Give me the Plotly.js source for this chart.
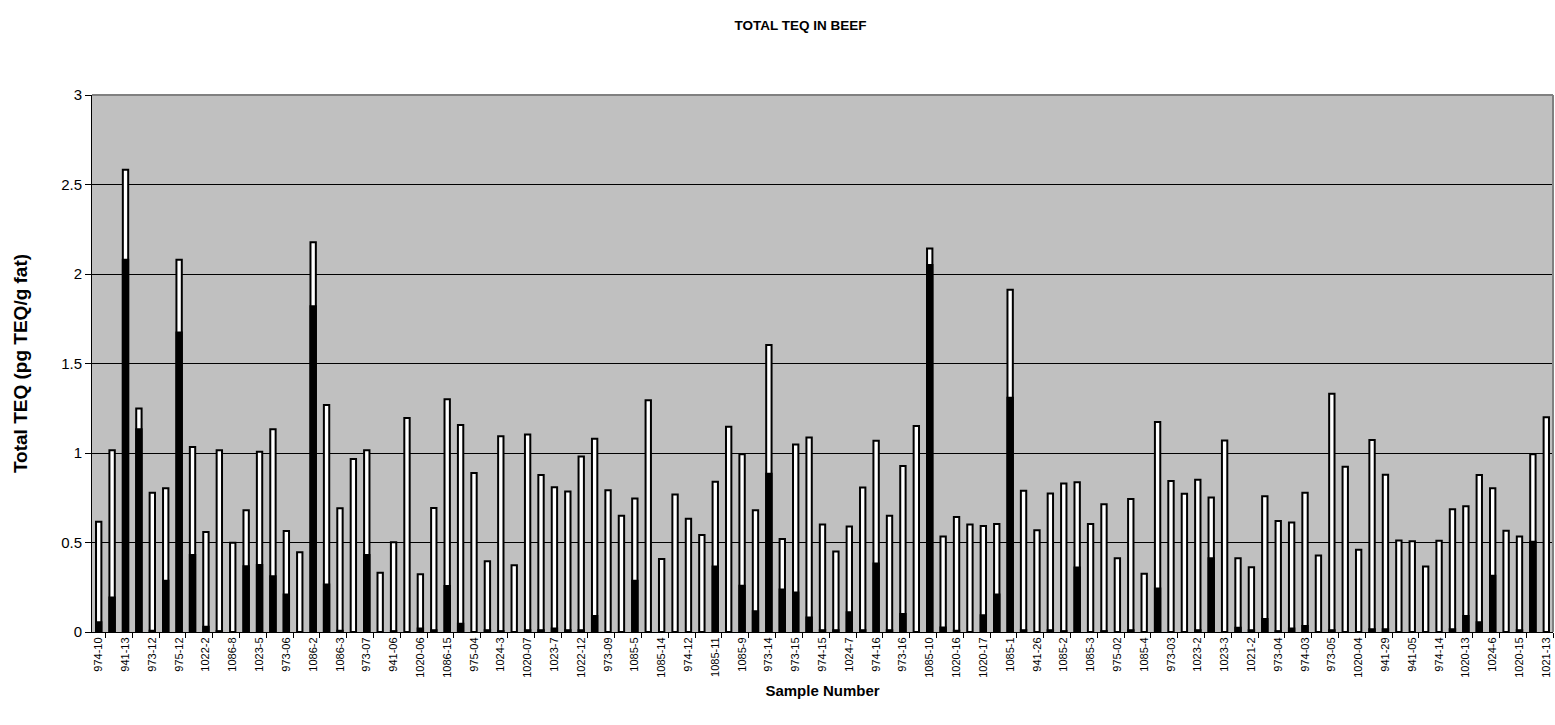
<!DOCTYPE html>
<html>
<head>
<meta charset="utf-8">
<script src="https://cdn.plot.ly/plotly-3.0.1.min.js"></script>
<style>html,body{margin:0;padding:0;background:#fff;}#chart{width:1555px;height:725px;}</style>
</head>
<body>
<div id="chart"></div>
<script>
// Tick labels (shown on every other sample)
const tickLabels = ["974-10","941-13","973-12","975-12","1022-2","1086-8","1023-5","973-06","1086-2","1086-3",
"973-07","941-06","1020-06","1086-15","975-04","1024-3","1020-07","1023-7","1022-12","973-09",
"1085-5","1085-14","974-12","1085-11","1085-9","973-14","973-15","974-15","1024-7","974-16",
"973-16","1085-10","1020-16","1020-17","1085-1","941-26","1085-2","1085-3","975-02","1085-4",
"973-03","1023-2","1023-3","1021-2","973-04","974-03","973-05","1020-04","941-29","941-05",
"974-14","1020-13","1024-6","1020-15","1021-13"];

// Total TEQ per sample (pg TEQ/g fat)
const totalTEQ = [0.616,1.015,2.583,1.248,0.778,0.803,2.079,1.033,0.559,1.015,
0.498,0.68,1.007,1.132,0.564,0.445,2.178,1.268,0.691,0.967,
1.015,0.331,0.502,1.195,0.322,0.693,1.30,1.156,0.888,0.395,
1.094,0.373,1.103,0.877,0.809,0.785,0.98,1.079,0.792,0.649,
0.746,1.294,0.408,0.768,0.632,0.542,0.84,1.147,0.993,0.68,
1.603,0.52,1.048,1.086,0.6,0.45,0.59,0.807,1.068,0.649,
0.928,1.151,2.143,0.533,0.643,0.6,0.592,0.603,1.912,0.789,
0.568,0.774,0.829,0.836,0.603,0.713,0.412,0.743,0.325,1.173,
0.844,0.772,0.851,0.752,1.07,0.412,0.362,0.759,0.62,0.612,
0.778,0.428,1.331,0.923,0.46,1.072,0.879,0.511,0.507,0.366,
0.51,0.686,0.702,0.877,0.803,0.566,0.533,0.993,1.2];

// Dark (lower) portion per sample
const darkTEQ = [0.055,0.193,2.079,1.132,0.007,0.287,1.673,0.43,0.03,0.005,
0,0.368,0.375,0.311,0.21,0,1.82,0.265,0.007,0,
0.43,0,0.005,0,0.02,0.01,0.257,0.046,0,0.01,
0.005,0,0.01,0.01,0.02,0.01,0.01,0.09,0,0,
0.287,0,0,0,0,0,0.366,0,0.259,0.116,
0.884,0.237,0.221,0.081,0.01,0.01,0.11,0.01,0.382,0.01,
0.1,0,2.05,0.025,0.007,0,0.094,0.21,1.309,0.01,
0,0.01,0.005,0.36,0,0.005,0,0.01,0,0.243,
0,0,0.01,0.412,0,0.024,0.01,0.072,0.005,0.02,
0.033,0,0.01,0,0,0.015,0.015,0,0,0,
0,0.015,0.09,0.055,0.314,0,0.01,0.504,0];

const yTicks = [0,0.5,1,1.5,2,2.5,3];

const xIdx = totalTEQ.map((_, i) => i);
const tickVals = tickLabels.map((_, i) => i * 2);

const traces = [
  {type:'bar', x:xIdx, y:totalTEQ, width:0.4,
   marker:{color:'#ffffff', line:{color:'#000000', width:2}}, hoverinfo:'y', showlegend:false},
  {type:'bar', x:xIdx, y:darkTEQ, width:0.4,
   marker:{color:'#000000', line:{color:'#000000', width:2}}, hoverinfo:'y', showlegend:false}
];

const layout = {
  width:1555, height:725,
  margin:{l:92, r:2, t:95, b:93},
  paper_bgcolor:'#ffffff', plot_bgcolor:'#c0c0c0',
  barmode:'overlay',
  font:{family:'Arial, Liberation Sans, sans-serif', color:'#000'},
  title:{text:'<b>TOTAL TEQ IN BEEF</b>', x:0.485, xref:'paper', xanchor:'center', y:0.965, yanchor:'middle', yref:'container',
         font:{size:13.5, family:'Arial, Liberation Sans, sans-serif'}},
  xaxis:{range:[-0.5, totalTEQ.length-0.5], tickmode:'array', tickvals:tickVals, ticktext:tickLabels,
         tickangle:-90, tickfont:{size:11}, ticks:'', showgrid:false, zeroline:false,
         showline:true, linecolor:'#000', linewidth:1,
         minor:{tick0:0.5, dtick:2, ticks:'outside', ticklen:5, tickcolor:'#000', showgrid:false},
         title:{text:'<b>Sample Number</b>', font:{size:15}, standoff:8}},
  yaxis:{range:[0,3], tickmode:'array', tickvals:yTicks, ticktext:yTicks.map(String),
         tickfont:{size:15}, ticks:'outside', ticklen:6, tickcolor:'#000',
         showgrid:true, gridcolor:'#000', gridwidth:1, zeroline:false,
         showline:true, linecolor:'#000', linewidth:1,
         title:{text:'<b>Total TEQ (pg TEQ/g fat)</b>', font:{size:19}, standoff:28}},
  shapes:[
    {type:'line', xref:'paper', yref:'paper', x0:0, x1:1, y0:1, y1:1, line:{color:'#808080', width:2}},
    {type:'line', xref:'paper', yref:'paper', x0:1, x1:1, y0:0, y1:1, line:{color:'#808080', width:2}}
  ]
};

Plotly.newPlot('chart', traces, layout, {displayModeBar:false, staticPlot:true});
</script>
</body>
</html>
